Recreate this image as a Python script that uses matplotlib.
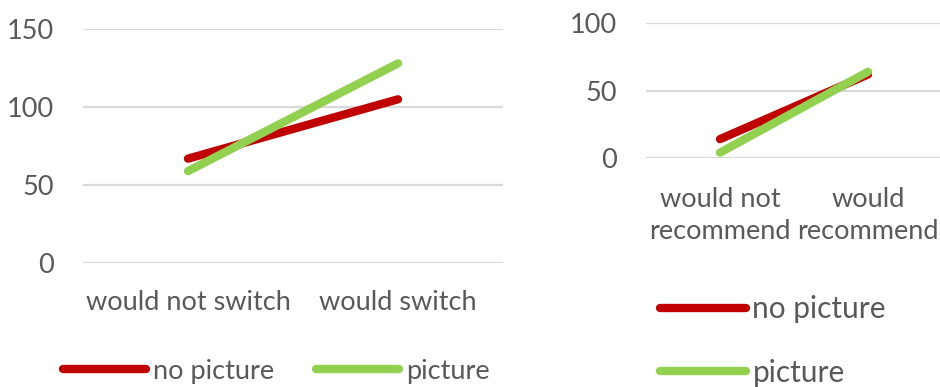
import matplotlib
matplotlib.use("Agg")
import matplotlib.pyplot as plt

# Data
switch_categories = ["would not switch", "would switch"]
switch_no_picture = [67, 105]
switch_picture = [59, 128]

recommend_categories = ["would not\nrecommend", "would\nrecommend"]
recommend_no_picture = [14, 62]
recommend_picture = [4, 64]

series_names = ["no picture", "picture"]
RED = "#C00000"
GREEN = "#92D050"
TEXT = "#595959"
GRID = "#D9D9D9"

plt.rcParams["font.family"] = ["Lato", "DejaVu Sans"]
FS = 19.5

W, H = 940, 387
fig = plt.figure(figsize=(W / 100, H / 100), dpi=100)


def px_axes(x0, x1, ytop, ybot):
    return fig.add_axes([x0 / W, 1 - ybot / H, (x1 - x0) / W, (ybot - ytop) / H])


def style(ax, yticks):
    ax.set_yticks(yticks)
    ax.set_ylim(yticks[0], yticks[-1])
    ax.grid(axis="y", color=GRID, linewidth=1.6)
    ax.set_axisbelow(True)
    for s in ax.spines.values():
        s.set_visible(False)
    ax.tick_params(length=0, labelsize=FS, labelcolor=TEXT)
    ax.tick_params(axis="y", pad=21)
    ax.set_xlim(-0.5, 1.5)


lw = 6.0

# Left chart
ax1 = px_axes(83, 503, 29, 263.3)
x = range(len(switch_categories))
l1, = ax1.plot(x, switch_no_picture, color=RED, lw=lw, solid_capstyle="round")
l2, = ax1.plot(x, switch_picture, color=GREEN, lw=lw, solid_capstyle="round")
style(ax1, [0, 50, 100, 150])
ax1.set_xticks(list(x), switch_categories)
ax1.tick_params(axis="x", pad=19)
fig.legend([l1, l2], series_names, loc="center left",
           bbox_to_anchor=(39 / W, 1 - 371 / H), ncol=2, frameon=False,
           fontsize=FS, handlelength=3.05, handletextpad=0.26,
           columnspacing=1.55, labelcolor=TEXT)

# Right chart
FS_LEG2 = 21.5
ax2 = px_axes(646, 942, 23.3, 158)
x = range(len(recommend_categories))
r1, = ax2.plot(x, recommend_no_picture, color=RED, lw=lw, solid_capstyle="round")
r2, = ax2.plot(x, recommend_picture, color=GREEN, lw=lw, solid_capstyle="round")
style(ax2, [0, 50, 100])
ax2.set_xticks(list(x), recommend_categories)
ax2.tick_params(axis="x", pad=21)
for t in ax2.get_xticklabels():
    t.set_linespacing(1.35)
fig.legend([r1, r2], series_names, loc="center left",
           bbox_to_anchor=(633 / W, 1 - 341 / H), ncol=1, frameon=False,
           fontsize=FS_LEG2, handlelength=2.9, handletextpad=0.2,
           labelspacing=1.2, labelcolor=TEXT)

fig.savefig("out.png", dpi=100)
